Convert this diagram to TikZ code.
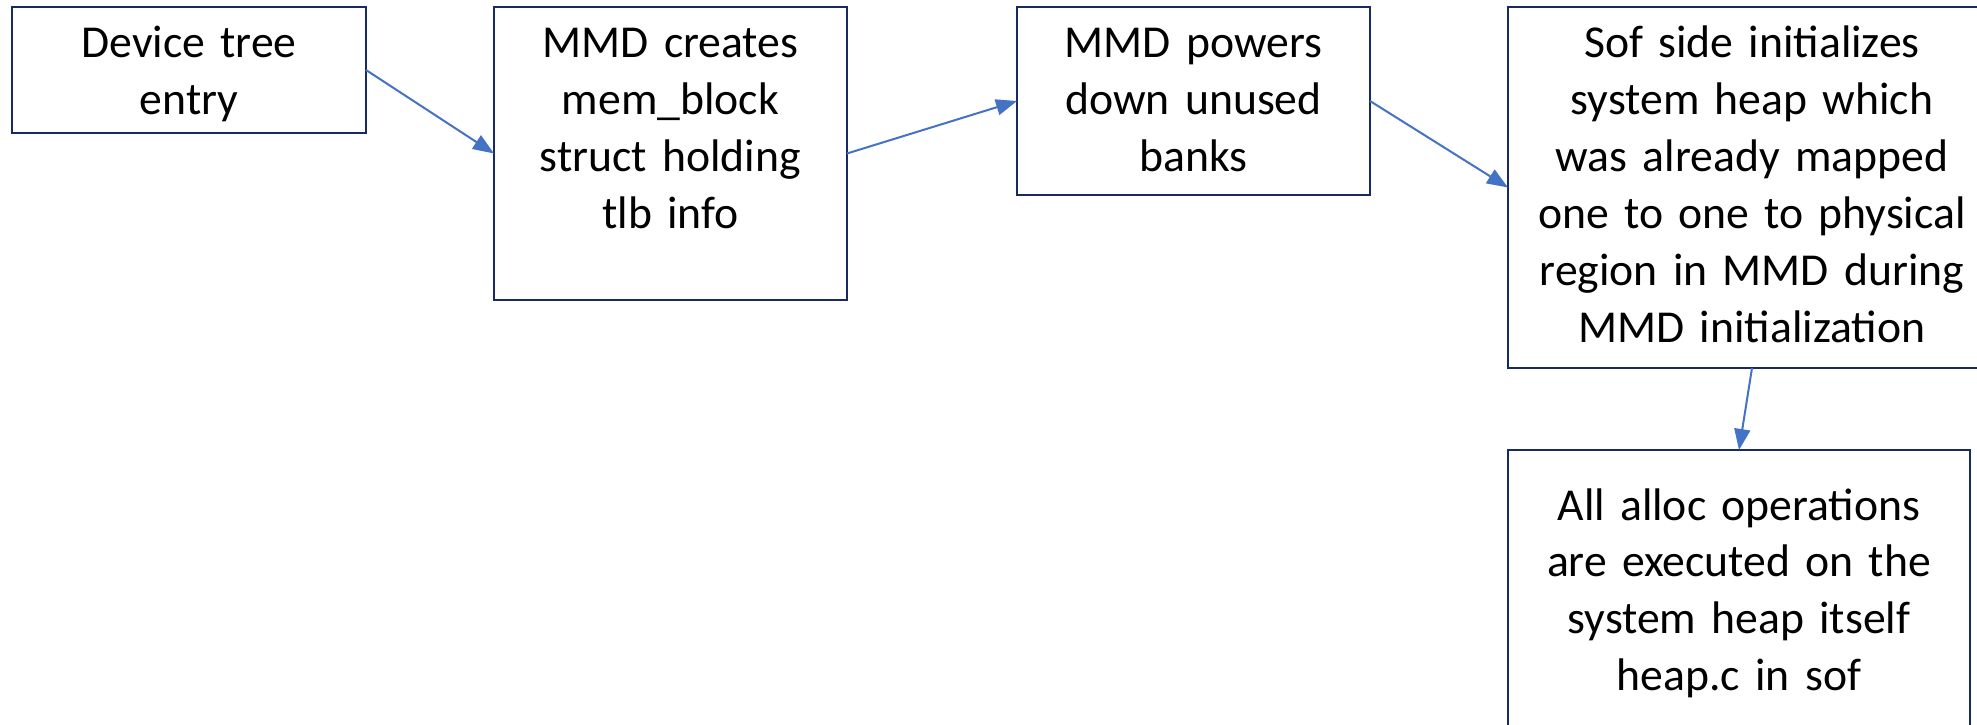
\documentclass[tikz,border=0pt]{standalone}
\usepackage{fontspec}
\setmainfont{Carlito}
\usepackage{tikz}
\usetikzlibrary{arrows.meta, positioning}
\definecolor{boxNavy}{RGB}{24,42,100}
\definecolor{arrowBlue}{RGB}{68,114,196}
\tikzstyle{fStep} = [rectangle, draw=boxNavy, line width=0.025cm, fill=white, inner sep=0pt, outer sep=0pt, align=center, text height=0.51cm, font=\fontsize{13}{16.2}\selectfont]
\tikzstyle{fArrow} = [draw=arrowBlue, line width=0.02cm, -{Triangle[length=0.21cm, width=0.16cm]}]

\begin{document}
\begin{tikzpicture}
    \useasboundingbox (0,0) rectangle (19.77,-7.25);
    \node (dtree) [fStep, text width=3.54cm, text depth=0.75cm, anchor=north west] at (0.12,-0.07) {Device tree\\entry};
    \node (memblock) [fStep, text width=3.53cm, text depth=2.42cm, right=1.28cm of dtree.north east, anchor=north west] {MMD creates\\mem\_block\\struct holding\\tlb info};
    \node (powerdown) [fStep, text width=3.53cm, text depth=1.37cm, right=1.70cm of memblock.north east, anchor=north west] {MMD powers\\down unused\\banks};
    \node (sysheap) [fStep, text width=4.88cm, text depth=3.10cm, right=1.38cm of powerdown.north east, anchor=north west] {Sof side initializes\\system heap which\\was already mapped\\one to one to physical\\region in MMD during\\MMD initialization};
    \node (alloc) [fStep, text width=4.62cm, text height=0.70cm, text depth=2.40cm, below=0.82cm of sysheap.south west, anchor=north west] {All alloc operations\\are executed on the\\system heap itself\\heap.c in sof};

    \draw [fArrow] (dtree.east) -- (memblock.west);
    \draw [fArrow] (memblock.east) -- (powerdown.west);
    \draw [fArrow] (powerdown.east) -- (sysheap.west);
    \draw [fArrow] (sysheap.south) -- (alloc.north);
\end{tikzpicture}
\end{document}
